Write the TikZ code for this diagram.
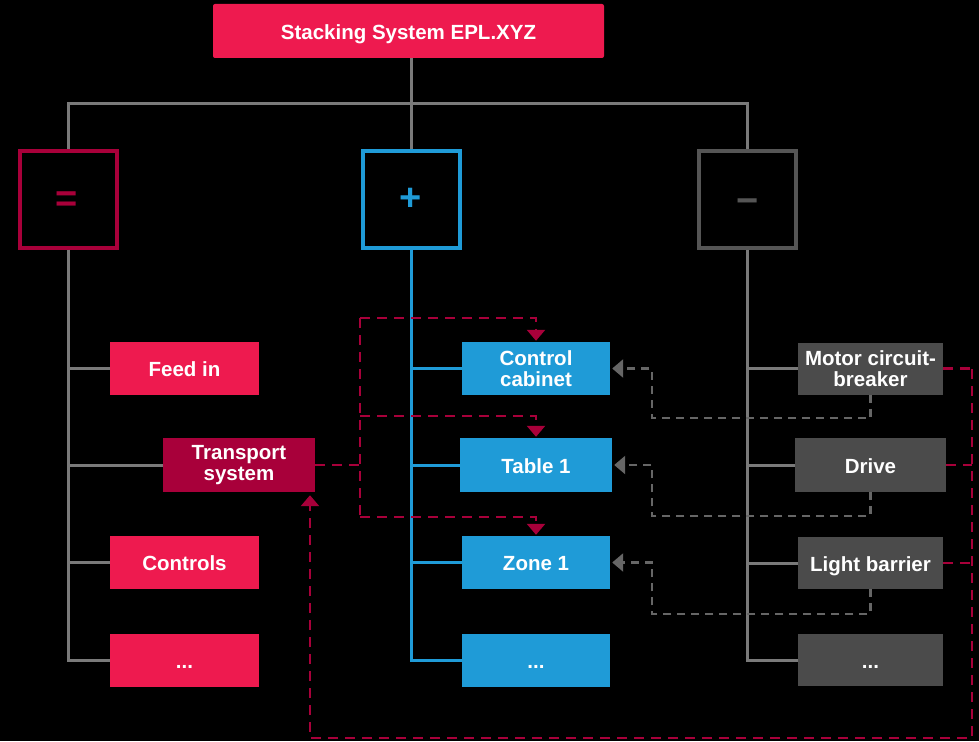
\documentclass[tikz,border=0pt]{standalone}
\usepackage{fontspec}
\setmainfont{Liberation Sans}
\usetikzlibrary{arrows.meta}
\definecolor{pinkc}{HTML}{EE1A4F}
\definecolor{darkr}{HTML}{A8003A}
\definecolor{bluec}{HTML}{1F9BD7}
\definecolor{grayb}{HTML}{4B4B4B}
\definecolor{grayl}{HTML}{7A7A7A}
\definecolor{grayd}{HTML}{666666}
\definecolor{grayframe}{HTML}{555555}
\tikzset{
  lbl/.style={text=white, font=\fontsize{20.5}{20.5}\selectfont\bfseries, align=center, inner sep=0pt},
  one/.style={text height=16.4pt, text depth=0pt},
  boxp/.style={lbl, fill=pinkc, minimum width=149, minimum height=53},
  boxr/.style={lbl, fill=darkr, minimum width=152, minimum height=54},
  boxb/.style={lbl, fill=bluec, minimum width=148, minimum height=53},
  boxg/.style={lbl, fill=grayb, minimum width=145, minimum height=52},
  frame/.style={draw, line width=4pt, minimum width=97, minimum height=97, inner sep=0pt},
  sym/.style={inner sep=0pt, anchor=base, font=\fontsize{38}{38}\selectfont\bfseries},
  treeg/.style={draw=grayl, line width=3pt},
  treeb/.style={draw=bluec, line width=3pt},
  dashr/.style={draw=darkr, line width=2.5pt, dash pattern=on 10pt off 7pt},
  dashg/.style={draw=grayd, line width=2.5pt, dash pattern=on 8pt off 6pt},
  tipr/.style={-{Triangle[width=18pt,length=11pt]}, shorten >=1pt},
  tipg/.style={-{Triangle[width=18pt,length=11pt]}, shorten >=2pt}
}
\begin{document}
\begin{tikzpicture}[x=1pt,y=-1pt]
\fill[black] (0,0) rectangle (979,741);
\useasboundingbox (0,0) rectangle (979,741);

% top
\node[lbl, one, fill=pinkc, minimum width=391, minimum height=54, rounded corners=2pt] (top) at (408.5,31) {Stacking System EPL.XYZ};

% frames
\node[frame, draw=darkr] (eq) at (68.5,199) {};
\node[frame, draw=bluec] (pl) at (411.5,199) {};
\node[frame, draw=grayframe] (mi) at (747.5,199) {};
\node[sym, text=darkr] (eqs) at (67,211.5) {=};
\node[sym, text=bluec] (pls) at (411,210.7) {+};
\node[sym, text=grayframe] (mis) at (748,213) {−};

% left column
\node[boxp, one] (feed) at (184.5,368.5) {Feed in};
\node[boxr] (trans) at (239,465) {Transport\\system};
\node[boxp, one] (ctrl) at (184.5,562.5) {Controls};
\node[boxp, one] (dotsl) at (184.5,660) {...};

% middle column
\node[boxb] (cc) at (536,368.5) {Control\\cabinet};
\node[boxb, one, minimum width=152, minimum height=54] (t1) at (536,465) {Table 1};
\node[boxb, one] (z1) at (536,562.5) {Zone 1};
\node[boxb, one] (dotsm) at (536,660) {...};

% right column
\node[boxg] (mcb) at (870.5,368.5) {Motor circuit-\\breaker};
\node[boxg, one, minimum width=151, minimum height=54] (drv) at (870.5,465) {Drive};
\node[boxg, one] (lb) at (870.5,563) {Light barrier};
\node[boxg, one] (dotsr) at (870.5,660) {...};

% tree
\draw[treeg] (pl.north |- top.south) -- (pl.north);
\draw[treeg] (eq.north) -- ++(0,-45) -| (mi.north);
\draw[treeg] (eq.south) |- (dotsl.west);
\draw[treeg] (eq.south |- feed.west) -- (feed.west);
\draw[treeg] (eq.south |- trans.west) -- (trans.west);
\draw[treeg] (eq.south |- ctrl.west) -- (ctrl.west);
\draw[treeb] (pl.south) |- (dotsm.west);
\draw[treeb] (pl.south |- cc.west) -- (cc.west);
\draw[treeb] (pl.south |- t1.west) -- (t1.west);
\draw[treeb] (pl.south |- z1.west) -- (z1.west);
\draw[treeg] (mi.south) |- (dotsr.west);
\draw[treeg] (mi.south |- mcb.west) -- (mcb.west);
\draw[treeg] (mi.south |- drv.west) -- (drv.west);
\draw[treeg] (mi.south |- lb.west) -- (lb.west);

% crimson dashed: transport -> middle
\coordinate (dtop) at (360,318);
\coordinate (dmid) at (360,416);
\coordinate (dbot) at (360,517);
\draw[dashr] (trans.east) -- (trans.east -| dtop);
\draw[dashr] (dtop) -- (dbot);
\draw[dashr, tipr] (dtop) -| (cc.north);
\draw[dashr, tipr] (dmid) -| (t1.north);
\draw[dashr, tipr] (dbot) -| (z1.north);

% gray dashed: right -> middle
\coordinate (g1) at (652,418);
\coordinate (g2) at (652,516);
\coordinate (g3) at (652,614);
\draw[dashg, tipg] (mcb.south) |- (g1) |- (cc.east);
\draw[dashg, tipg] (drv.south) |- (g2) |- (t1.east);
\draw[dashg, tipg] (lb.south) |- (g3) |- (z1.east);

% crimson dashed: right -> transport
\coordinate (rtop) at (972,369);
\coordinate (rbot) at (972,738);
\coordinate (lbot) at (310,738);
\draw[dashr] (mcb.east) -- (mcb.east -| rtop);
\draw[dashr] (drv.east) -- (drv.east -| rtop);
\draw[dashr] (lb.east) -- (lb.east -| rtop);
\draw[dashr, tipr, shorten >=3pt] (rtop) -- (rbot) -- (lbot) -- (lbot |- trans.south);
\end{tikzpicture}
\end{document}
